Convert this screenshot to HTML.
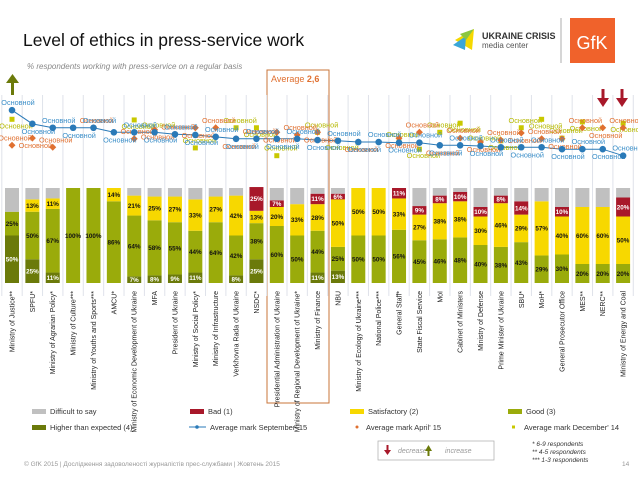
<!DOCTYPE html>
<html><head><meta charset="utf-8"><style>
body{margin:0;background:#fff;font-family:"Liberation Sans",sans-serif;}
svg{display:block}
</style></head><body>
<svg id="c" width="638" height="479" viewBox="0 0 638 479" xmlns="http://www.w3.org/2000/svg" font-family="Liberation Sans, sans-serif">
<text x="23" y="46" font-size="17.5" fill="#111">Level of ethics in press-service work</text>
<text x="27" y="69" font-size="8" font-style="italic" fill="#888">% respondents working with press-service on a regular basis</text>
<g>
<polygon points="455,40 474,29 472,50" fill="#f5d800"/>
<polygon points="453,45 466,36 465,50" fill="#3aa6d8"/>
<polygon points="460,34 474,29 466,40" fill="#8cc63f"/>
<text x="482" y="39" font-size="9" font-weight="bold" fill="#333">UKRAINE CRISIS</text>
<text x="482" y="48" font-size="8" fill="#555">media center</text>
</g>
<line x1="561" y1="18" x2="561" y2="63" stroke="#999" stroke-width="0.8"/>
<g>
<rect x="570" y="18" width="45" height="45" fill="#f0622b"/>
<text x="592" y="49" font-size="18" fill="#fff" text-anchor="middle">GfK</text>
</g>
<rect x="267" y="70" width="62" height="333" fill="none" stroke="#c8743a" stroke-width="1"/>
<text x="271" y="82" font-size="9" fill="#e07030">Average <tspan font-weight="bold">2,6</tspan></text>
<g><rect x="11" y="81" width="3" height="14" fill="#6b7a0a"/><polygon points="6,83 12.5,74 19,83" fill="#6b7a0a"/></g>
<g><rect x="601.5" y="89" width="3" height="11" fill="#a8182a"/><polygon points="597,98 603,107 609,98" fill="#a8182a"/></g>
<g><rect x="620.5" y="89" width="3" height="11" fill="#a8182a"/><polygon points="616,98 622,107 628,98" fill="#a8182a"/></g>
<g id="grid"></g><g id="bars"></g><g id="pts"></g><g id="cats"></g>
<g font-size="7.5" fill="#333">
<g><rect x="32" y="409" width="14" height="5" fill="#c0c0c0"/><text x="50" y="414">Difficult to say</text></g>
<g><rect x="190" y="409" width="14" height="5" fill="#a8182a"/><text x="208" y="414">Bad (1)</text></g>
<g><rect x="350" y="409" width="14" height="5" fill="#f7d800"/><text x="368" y="414">Satisfactory (2)</text></g>
<g><rect x="508" y="409" width="14" height="5" fill="#9aab0b"/><text x="526" y="414">Good (3)</text></g>
<g><rect x="32" y="425" width="14" height="5" fill="#6b7a0a"/><text x="50" y="430">Higher than expected (4)</text></g>
<g><line x1="189" y1="427" x2="206" y2="427" stroke="#2a7ab8"/><circle cx="197" cy="427" r="1.8" fill="#2a7ab8"/><text x="210" y="430">Average mark September' 15</text></g>
<g><circle cx="357" cy="427" r="1.5" fill="#e07030"/><text x="366" y="430">Average mark April' 15</text></g>
<g><rect x="512" y="425.5" width="3" height="3" fill="#c8c800"/><text x="524" y="430">Average mark December' 14</text></g>
</g>
<g>
<rect x="378" y="441" width="116" height="19" fill="#fff" stroke="#aaa" stroke-width="0.7"/>
<rect x="386.5" y="445" width="2" height="6" fill="#a8182a"/><polygon points="384,450 387.5,455 391,450" fill="#a8182a"/>
<text x="398" y="453" font-size="7" font-style="italic" fill="#999">decrease</text>
<rect x="427.5" y="450" width="2" height="6" fill="#6b7a0a"/><polygon points="425,451 428.5,445 432,451" fill="#6b7a0a"/>
<text x="445" y="453" font-size="7" font-style="italic" fill="#999">increase</text>
</g>
<g font-size="6.5" font-style="italic" fill="#333">
<text x="532" y="446">* 6-9 respondents</text><text x="532" y="454">** 4-5 respondents</text><text x="532" y="462">*** 1-3 respondents</text>
</g>
<text x="24" y="466" font-size="6.5" fill="#999">© GfK 2015 | Дослідження задоволеності журналістів прес-службами | Жовтень 2015</text>
<text x="622" y="466" font-size="6.5" fill="#999">14</text>
</svg>
<script>
const categories=["Ministry of Justice**","SPFU*","Ministry of Agrarian Policy*","Ministry of Culture***","Ministry of Youths and Sports***","AMCU*","Ministry of Economic Development of Ukraine","MFA","President of Ukraine","Ministry of Social Policy*","Ministry of Infrastructure","Verkhovna Rada of Ukraine","NSDC*","Presidential Administration of Ukraine","Ministry of Regional Development of Ukraine*","Ministry of Finance","NBU","Ministry of Ecology of Ukraine***","National Police***","General Staff*","State Fiscal Service","MoI","Cabinet of Ministers","Ministry of Defense","Prime Minister of Ukraine","SBU*","MoH*","General Prosecutor Office","MES**","NERC**","Ministry of Energy and Coal"];
const higher=[50,25,11,0,0,0,7,8,9,11,0,8,25,0,0,11,13,0,0,0,0,0,0,0,0,0,0,0,0,0,0];
const good=[25,50,67,100,100,86,64,58,55,44,64,42,38,60,50,44,25,50,50,56,45,46,48,40,38,43,29,30,20,20,20];
const satisfactory=[0,13,11,0,0,14,21,25,27,33,27,42,13,20,33,28,50,50,50,33,27,38,38,30,46,29,57,40,60,60,50];
const bad=[0,0,0,0,0,0,0,0,0,0,0,0,25,7,0,11,6,0,0,11,9,8,10,10,8,14,0,10,0,0,20];
const difficult=[25,12,11,0,0,0,8,9,9,12,9,8,0,13,17,6,6,0,0,0,19,8,4,20,8,14,14,20,20,20,10];
const markSep=[2.92,2.71,2.65,2.65,2.65,2.58,2.58,2.58,2.55,2.54,2.51,2.48,2.48,2.48,2.48,2.46,2.45,2.43,2.43,2.42,2.42,2.38,2.38,2.37,2.35,2.35,2.35,2.32,2.32,2.32,2.22];
const markApr=[2.38,2.49,2.35,null,2.65,null,2.48,2.62,2.55,2.65,2.65,2.48,2.48,2.58,2.54,2.58,null,2.43,null,2.49,2.58,2.38,2.49,2.43,2.46,2.57,2.48,2.48,2.65,2.65,2.65];
const markDec=[2.78,null,null,null,null,null,2.77,2.58,null,2.34,null,2.65,2.65,2.22,null,2.58,2.45,null,null,2.43,2.32,2.58,2.72,2.38,2.45,2.65,2.78,2.49,2.74,null,2.72];

const NS="http://www.w3.org/2000/svg";
const X0=12,STEP=20.37,BW=14,YB=283,BH=95;
const xc=i=>X0+i*STEP;
const yPct=p=>YB-p/100*BH;
const yMark=v=>300-v*65;
function mk(tag,attrs,parent){const e=document.createElementNS(NS,tag);for(const k in attrs)e.setAttribute(k,attrs[k]);parent.appendChild(e);return e;}
const grid=document.getElementById('grid'),bars=document.getElementById('bars'),pts=document.getElementById('pts'),cats=document.getElementById('cats');
for(let i=0;i<=categories.length;i++){
  const l=mk('line',{x1:xc(i)-STEP/2,x2:xc(i)-STEP/2,y1:95,y2:296,stroke:'#dfe2ea','stroke-width':1},grid);
  
  
}
const series=[[higher,'#6b7a0a','#fff','higher'],[good,'#9aab0b','#111','good'],[satisfactory,'#f7d800','#111','satisfactory'],[bad,'#a8182a','#fff','bad'],[difficult,'#c0c0c0','#111','difficult']];
categories.forEach((c,i)=>{
  let acc=0;
  series.forEach(([arr,col,tc,nm])=>{
    const v=arr[i]; if(!v){return;}
    const y1=yPct(acc+v),y0=yPct(acc);
    const r=mk('rect',{x:xc(i)-BW/2,y:y1,width:BW,height:y0-y1,fill:col},bars);
    
    
    if(nm!=='difficult'&&v>=5){
      const t=mk('text',{x:xc(i),y:(y0+y1)/2+2.3,'font-size':6.3,'font-weight':'bold','text-anchor':'middle',fill:tc},bars);
      t.textContent=v+'%';
      
      
    }
    acc+=v;
  });
  const t=mk('text',{transform:`translate(${xc(i)+2.5},291) rotate(-90)`,'font-size':7,'text-anchor':'end',fill:'#222'},cats);
  t.textContent=c;
  
  
});
let d='';markSep.forEach((v,i)=>{d+=(i?'L':'M')+xc(i)+','+yMark(v);});
const pl=mk('path',{d:d,fill:'none',stroke:'#2a7ab8','stroke-width':1},pts);


function lbl(x,y,col){const t=mk('text',{x:x,y:y,'font-size':7.3,fill:col,'text-anchor':'middle'},pts);t.textContent='Основной';
  
  }
markDec.forEach((v,i)=>{if(v==null)return;const y=yMark(v);
  const p=mk('rect',{x:xc(i)-2.5,y:y-2.5,width:5,height:5,fill:'#c8c800'},pts);
  
  
  lbl(xc(i)+4,y+(i%2?-5:9),'#b5b800');});
markApr.forEach((v,i)=>{if(v==null)return;const y=yMark(v);
  const p=mk('polygon',{points:`${xc(i)},${y-3.5} ${xc(i)+3.5},${y} ${xc(i)},${y+3.5} ${xc(i)-3.5},${y}`,fill:'#e07030'},pts);
  
  
  lbl(xc(i)+3,y+(i%2?10:-5),'#e07030');});
markSep.forEach((v,i)=>{const y=yMark(v);
  const p=mk('circle',{cx:xc(i),cy:y,r:3.3,fill:'#2a7ab8'},pts);
  
  
  lbl(xc(i)+6,y+(i%2?10:-5),'#3a8ec8');});
</script>
</body></html>
